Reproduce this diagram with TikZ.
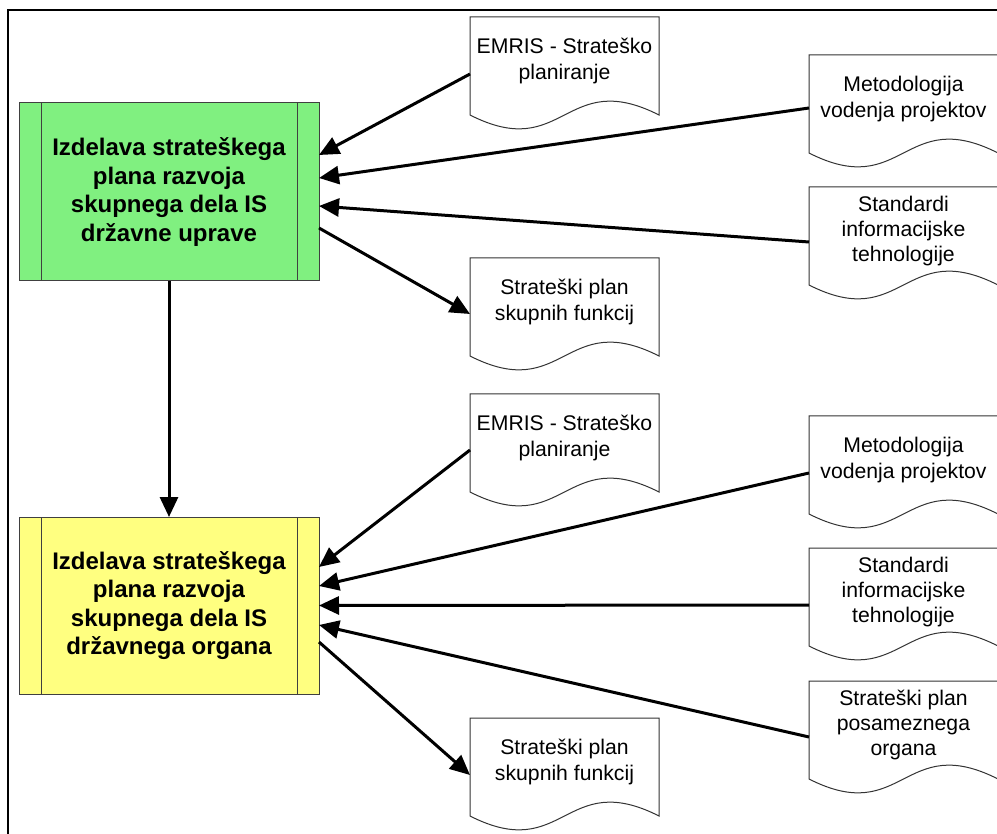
\documentclass[tikz,border=0pt]{standalone}
\usepackage{fontspec}
\setmainfont{Liberation Sans}
\usetikzlibrary{arrows.meta,calc}
\definecolor{procgreen}{RGB}{128,240,128}
\definecolor{procyellow}{RGB}{255,255,128}
\tikzset{
  process/.style={draw=black!75, line width=1pt, minimum width=300pt, minimum height=178pt,
    inner sep=0pt, outer sep=0pt, align=center,
    font=\fontsize{24}{28.5}\selectfont\bfseries},
  docnode/.style={anchor=north west, minimum width=189pt, minimum height=88pt,
    inner sep=0pt, outer sep=0pt, align=center, font=\fontsize{21.2}{25.3}\selectfont},
  docline/.style={draw=black!80, line width=1pt, fill=white},
  sideline/.style={draw=black!75, line width=1pt},
  flow/.style={line width=3pt, -{Triangle[length=20pt,width=18pt]}},
  frameline/.style={line width=2pt},
}
% document symbol: flat top, wavy bottom edge
\newcommand{\docoutline}[1]{%
  \draw[docline] ($(#1.north west)+(0,98)$) -- (#1.north west)
    -- ($(#1.north west)+(189,0)$) -- ($(#1.north west)+(189,98)$)
    .. controls ($(#1.north west)+(94.5,50)$) and ($(#1.north west)+(94.5,146)$)
    .. ($(#1.north west)+(0,98)$) -- cycle;}
% process box with two inner side bars
\newcommand{\procbars}[1]{%
  \draw[sideline] ([xshift=22pt]#1.north west) -- ([xshift=22pt]#1.south west);
  \draw[sideline] ([xshift=-22pt]#1.north east) -- ([xshift=-22pt]#1.south east);}
\begin{document}
\begin{tikzpicture}[x=1pt,y=-1pt]
  \useasboundingbox (0,0) rectangle (997,834);
  \clip (0,0) rectangle (997,834);
  \fill[white] (0,0) rectangle (997,834);

  % outer frame (left and top edges)
  \draw[frameline] (8,840) -- (8,10) -- (1000,10);

  % process boxes
  \node[process, fill=procgreen] (g) at (169,192)
    {Izdelava strateškega\\plana razvoja\\skupnega dela IS\\državne uprave};
  \procbars{g}
  \node[process, fill=procyellow, minimum height=177pt] (y) at (169,605.5)
    {Izdelava strateškega\\plana razvoja\\skupnega dela IS\\državnega organa};
  \procbars{y}

  % documents, upper group
  \node[docnode] (d1) at (470,17) {};
  \docoutline{d1}
  \node[docnode] at (d1.north west) {EMRIS - Strateško\\planiranje};
  \node[docnode] (d2) at (809,55) {};
  \docoutline{d2}
  \node[docnode] at (d2.north west) {Metodologija\\vodenja projektov};
  \node[docnode] (d3) at (809,187) {};
  \docoutline{d3}
  \node[docnode] at (d3.north west) {Standardi\\informacijske\\tehnologije};
  \node[docnode] (d4) at (470,258) {};
  \docoutline{d4}
  \node[docnode] at (d4.north west) {Strateški plan\\skupnih funkcij};

  % documents, lower group
  \node[docnode] (d5) at (470,394) {};
  \docoutline{d5}
  \node[docnode] at (d5.north west) {EMRIS - Strateško\\planiranje};
  \node[docnode] (d6) at (809,416) {};
  \docoutline{d6}
  \node[docnode] at (d6.north west) {Metodologija\\vodenja projektov};
  \node[docnode] (d7) at (809,548) {};
  \docoutline{d7}
  \node[docnode] at (d7.north west) {Standardi\\informacijske\\tehnologije};
  \node[docnode] (d8) at (809,681) {};
  \docoutline{d8}
  \node[docnode] at (d8.north west) {Strateški plan\\posameznega\\organa};
  \node[docnode] (d9) at (470,718) {};
  \docoutline{d9}
  \node[docnode] at (d9.north west) {Strateški plan\\skupnih funkcij};

  % flows, upper group
  \draw[flow] ($(d1.north west)+(0,57)$) -- ($(g.east)+(0,-37)$);
  \draw[flow] ($(d2.north west)+(0,53)$) -- ($(g.east)+(0,-14)$);
  \draw[flow] ($(d3.north west)+(0,55)$) -- ($(g.east)+(0,14)$);
  \draw[flow] ($(g.east)+(0,36)$) -- ($(d4.north west)+(0,56)$);

  % sequence
  \draw[flow] (g.south) -- (y.north);

  % flows, lower group
  \draw[flow] ($(d5.north west)+(0,56)$) -- ($(y.east)+(0,-38.5)$);
  \draw[flow] ($(d6.north west)+(0,57)$) -- ($(y.east)+(0,-19.5)$);
  \draw[flow] ($(d7.north west)+(0,57)$) -- ($(y.east)+(0,0)$);
  \draw[flow] ($(d8.north west)+(0,56)$) -- ($(y.east)+(0,19.5)$);
  \draw[flow] ($(y.east)+(0,36.5)$) -- ($(d9.north west)+(0,57)$);
\end{tikzpicture}
\end{document}
